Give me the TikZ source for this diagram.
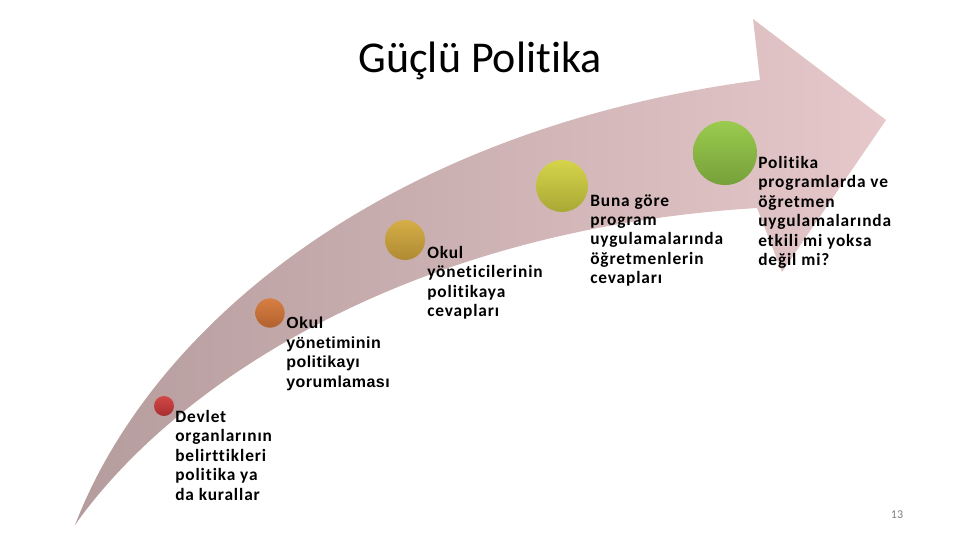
\documentclass[tikz,border=0pt]{standalone}
\usepackage{fontspec}
\setmainfont{Carlito}[Ligatures={NoCommon,NoContextual}]
\newfontfamily\stagefont{Carlito}[Ligatures={NoCommon,NoContextual}, LetterSpace=5]
\newfontfamily\arialfont{Liberation Sans}[LetterSpace=3]
\usetikzlibrary{positioning}
\definecolor{arrowtail}{HTML}{B59C9D}
\definecolor{arrowhead}{HTML}{E6C8CA}
\definecolor{redtop}{HTML}{D24747}
\definecolor{redbot}{HTML}{A82F30}
\definecolor{orangetop}{HTML}{D67E42}
\definecolor{orangebot}{HTML}{B2622E}
\definecolor{goldtop}{HTML}{D6AE48}
\definecolor{goldbot}{HTML}{AE8A32}
\definecolor{limetop}{HTML}{D6D44A}
\definecolor{limebot}{HTML}{A8A836}
\definecolor{greentop}{HTML}{9ACB4E}
\definecolor{greenbot}{HTML}{76A03A}
\tikzset{
  stagedot/.style={
    circle, inner sep=0pt, minimum size=#1
  },
  stagetext/.style={
    anchor=north west, inner sep=0pt, align=left,
    font=\stagefont\fontsize{13}{14.6}\selectfont\bfseries
  }
}

\begin{document}
\begin{tikzpicture}[x=0.75pt, y=-0.75pt]
    \useasboundingbox (0,0) rectangle (960,540);

    % big curved arrow
    \shade[left color=arrowtail, right color=arrowhead]
      (75,525) .. controls (150,330) and (380,130) .. (760,80)
      -- (753,19) -- (886,120) -- (782,272) -- (757,208)
      .. controls (400,230) and (170,390) .. (75,525) -- cycle;

    \node[font=\fontsize{33}{39}\selectfont] (title) at (480,61) {Güçlü Politika};

    % stages
    \node[stagedot=15pt, top color=redtop, bottom color=redbot] (d1) at (164,406) {};
    \node[stagedot=22pt, top color=orangetop, bottom color=orangebot] (d2) at (270,313) {};
    \node[stagedot=30pt, top color=goldtop, bottom color=goldbot] (d3) at (405,240) {};
    \node[stagedot=39pt, top color=limetop, bottom color=limebot] (d4) at (562,186) {};
    \node[stagedot=48pt, top color=greentop, bottom color=greenbot] (d5) at (725,153) {};

    \node[stagetext] (t1) at (175,410) {Devlet\\organlarının\\belirttikleri\\politika ya\\da kurallar};
    \node[stagetext, font=\arialfont\fontsize{12}{14.6}\selectfont\bfseries] (t2) at (286,317) {Okul\\yönetiminin\\politikayı\\yorumlaması};
    \node[stagetext] (t3) at (427,246) {Okul\\yöneticilerinin\\politikaya\\cevapları};
    \node[stagetext] (t4) at (590,194) {Buna göre\\program\\uygulamalarında\\öğretmenlerin\\cevapları};
    \node[stagetext] (t5) at (758,156) {Politika\\programlarda ve\\öğretmen\\uygulamalarında\\etkili mi yoksa\\değil mi?};

    \node[font=\fontsize{9}{11}\selectfont, text=gray] (page) at (897,515) {13};
\end{tikzpicture}
\end{document}
